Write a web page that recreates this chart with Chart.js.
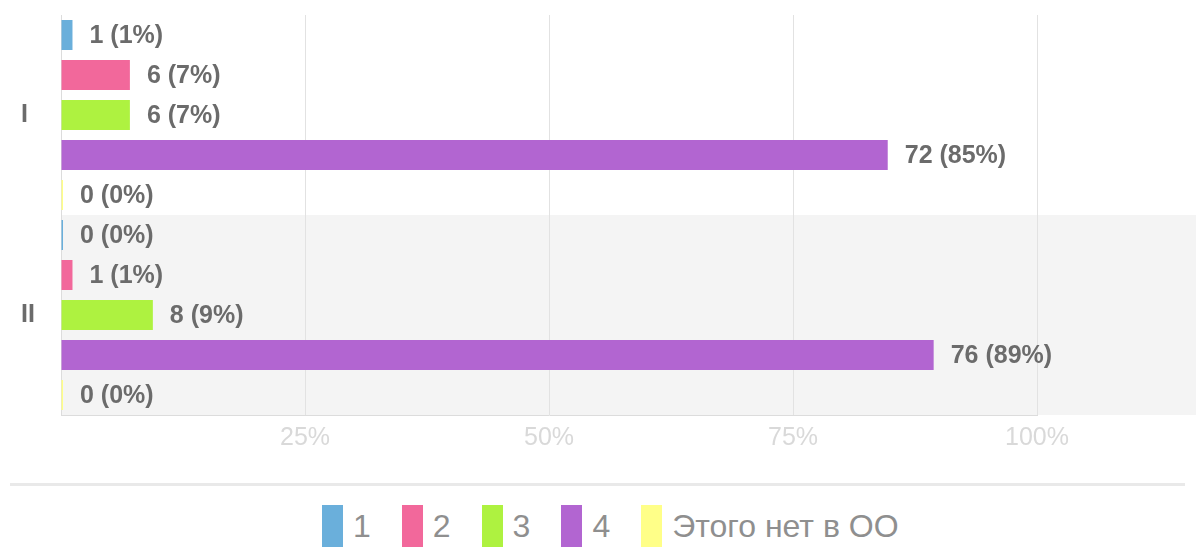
<!DOCTYPE html>
<html>
<head>
<meta charset="utf-8">
<script src="https://cdn.jsdelivr.net/npm/chart.js@4.4.1/dist/chart.umd.min.js"></script>
<style>
    html, body { margin: 0; padding: 0; background: #fff; overflow: hidden; }
    #wrap { position: relative; width: 1196px; height: 547px; font-family: 'Liberation Sans', Arial, sans-serif; }
    #chart { position: absolute; left: 0; top: 0; }
    #sep { position: absolute; left: 10px; top: 483px; width: 1175px; height: 3px; background: #e9e9e9; }
    #legend { position: absolute; left: 322px; top: 505px; display: flex; align-items: center; }
    .item { display: flex; align-items: center; margin-right: 31px; }
    .box { width: 21px; height: 42px; margin-right: 10px; }
    .txt { font-size: 32px; color: #8f8f8f; line-height: 42px; }
</style>
</head>
<body>
<div id="wrap">
    <canvas id="chart" width="1196" height="470"></canvas>
    <div id="sep"></div>
    <div id="legend"></div>
</div>
<script>
const categories = ['I', 'II'];
const seriesNames = ['1', '2', '3', '4', 'Этого нет в ОО'];
const seriesColors = ['#6aafdb', '#f2689b', '#aef240', '#b265d1', '#ffff88'];

// counts per category (I, II)
const counts1 = [1, 0];
const counts2 = [6, 1];
const counts3 = [6, 8];
const counts4 = [72, 76];
const countsNone = [0, 0];
const allCounts = [counts1, counts2, counts3, counts4, countsNone];

const xTickStep = 25;

const totals = categories.map((_, i) => allCounts.reduce((s, c) => s + c[i], 0));
const percents = allCounts.map(c => c.map((v, i) => v / totals[i] * 100));

const fontFamily = "'Liberation Sans', Arial, sans-serif";

// gray band behind every second category
const bandPlugin = {
    id: 'bands',
    beforeDraw(chart) {
        const ctx = chart.ctx;
        const y = chart.scales.y;
        const area = chart.chartArea;
        const half = categories.length > 1 ? (y.getPixelForValue(1) - y.getPixelForValue(0)) / 2 : (area.bottom - area.top) / 2;
        ctx.save();
        ctx.fillStyle = '#f4f4f4';
        categories.forEach((c, i) => {
            if (i % 2 === 1) {
                const cy = y.getPixelForValue(i);
                ctx.fillRect(area.left, cy - half, chart.width - area.left, half * 2);
            }
        });
        ctx.restore();
    }
};

// value labels to the right of each bar
const labelPlugin = {
    id: 'barLabels',
    afterDatasetsDraw(chart) {
        const ctx = chart.ctx;
        ctx.save();
        ctx.font = 'bold 25px ' + fontFamily;
        ctx.fillStyle = '#6b6b6b';
        ctx.textBaseline = 'middle';
        ctx.textAlign = 'left';
        chart.data.datasets.forEach((ds, di) => {
            chart.getDatasetMeta(di).data.forEach((bar, i) => {
                const count = allCounts[di][i];
                const pct = Math.round(percents[di][i]);
                ctx.fillText(`${count} (${pct}%)`, bar.x + 17, bar.y + 1);
            });
        });
        ctx.restore();
    }
};

new Chart(document.getElementById('chart').getContext('2d'), {
    type: 'bar',
    data: {
        labels: categories,
        datasets: seriesNames.map((name, i) => ({
            label: name,
            data: percents[i],
            backgroundColor: seriesColors[i],
            borderWidth: 0,
            minBarLength: 2,
            barPercentage: 0.75,
            categoryPercentage: 1
        }))
    },
    options: {
        indexAxis: 'y',
        responsive: false,
        animation: false,
        layout: { padding: { top: 15, right: 159, left: 21, bottom: 0 } },
        plugins: {
            legend: { display: false },
            tooltip: { enabled: false }
        },
        scales: {
            x: {
                min: 0,
                max: 100,
                grid: { color: '#e2e2e2', drawTicks: false },
                border: { color: '#dcdcdc' },
                ticks: {
                    stepSize: xTickStep,
                    padding: 8,
                    color: '#d9d9d9',
                    font: { family: fontFamily, size: 25 },
                    callback: v => v === 0 ? '' : v + '%'
                },
                afterFit: scale => { scale.height = 55; }
            },
            y: {
                grid: { display: false },
                border: { color: '#dcdcdc' },
                ticks: {
                    padding: 10,
                    crossAlign: 'far',
                    color: '#6b6b6b',
                    font: { family: fontFamily, size: 25, weight: 'bold' }
                },
                afterFit: scale => {
                    scale.width = 40;
                    scale.paddingTop = 0;
                    scale.paddingBottom = 0;
                }
            }
        }
    },
    plugins: [bandPlugin, labelPlugin]
});

const legend = document.getElementById('legend');
seriesNames.forEach((name, i) => {
    const item = document.createElement('div');
    item.className = 'item';
    item.innerHTML = `<div class="box" style="background:${seriesColors[i]}"></div><span class="txt">${name}</span>`;
    legend.appendChild(item);
});
</script>
</body>
</html>
